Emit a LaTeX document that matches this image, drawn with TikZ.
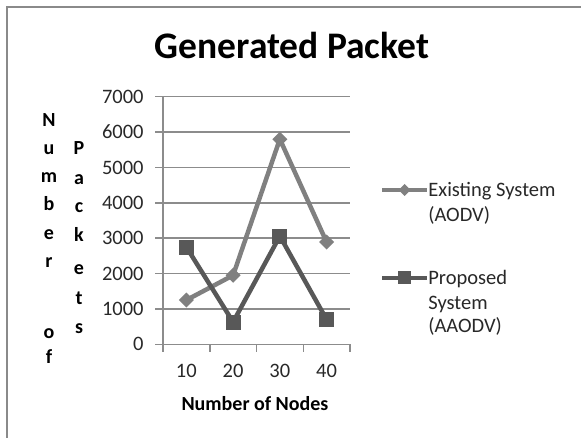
\documentclass[tikz,border=0pt]{standalone}
\usepackage{fontspec}
\setmainfont{Carlito}

\definecolor{framegray}{RGB}{138,138,138}
\definecolor{gridgray}{RGB}{140,140,140}
\definecolor{existgray}{RGB}{128,128,128}
\definecolor{propgray}{RGB}{88,88,88}
\definecolor{textgray}{RGB}{40,40,40}

\tikzset{every picture/.style={line width=0.75pt}}
\tikzset{
  lbl/.style={font=\fontsize{20.5}{24}\selectfont, text=textgray, inner sep=0pt},
  boldlbl/.style={font=\bfseries\fontsize{20}{24}\selectfont, inner sep=0pt},
  existline/.style={draw=existgray, line width=4.5, line join=round},
  propline/.style={draw=propgray, line width=4.5, line join=round},
  sqmark/.style={fill=propgray, draw=none, minimum size=15, inner sep=0pt},
}

\begin{document}
\begin{tikzpicture}[x=1pt,y=1pt,yscale=-1,xscale=1]
	\useasboundingbox (0,0) rectangle (581,438);

	%Frame
	\draw [framegray, line width=2] (7,438) -- (7,7) -- (581,7) ;

	% Title
	\node [font=\bfseries\fontsize{37.5}{40}\selectfont, inner sep=0pt, anchor=base] (title) at (292,59) {Generated Packet};

	%Gridlines and value labels
	\foreach \v [count=\i from 0] in {0,1000,...,7000} {
		\draw [gridgray, line width=1.5] (155,{344.3-35.37*\i}) -- (350,{344.3-35.37*\i}) ;
		\node [lbl, anchor=east] (yl\i) at (144,{344.3-35.37*\i}) {\v};
	}
	%Axes
	\draw [gridgray, line width=1.5] (163,96.7) -- (163,344.3) ;
	\foreach \i in {0,...,4}
		\draw [gridgray, line width=1.5] ({163+46.75*\i},344.3) -- ({163+46.75*\i},351.5) ;
	\foreach \n [count=\i] in {10,20,30,40}
		\node [lbl, anchor=base] (xl\i) at ({139.6+46.75*\i},377) {\n};

	% Axis titles
	\node [boldlbl, anchor=base] (xtitle) at (255,410) {Number of Nodes};
	\foreach \ch/\yy [count=\i] in {N/127,u/155,m/183,b/211,e/240,r/268,o/338,f/363}
		\node [boldlbl, anchor=base] (nm\i) at (49,\yy) {\ch};
	\foreach \ch/\yy [count=\i] in {P/155,a/185,c/213,k/242,e/275,t/305,s/334}
		\node [boldlbl, anchor=base] (pk\i) at (79,\yy) {\ch};

	%Data points
	\foreach \val [count=\i] in {1250,1950,5800,2890}
		\coordinate (ex\i) at ({139.6+46.75*\i},{344.3-0.03537*\val});
	\foreach \val [count=\i] in {2750,630,3060,700}
		\coordinate (pr\i) at ({139.6+46.75*\i},{344.3-0.03537*\val});

	%Existing System (AODV)
	\draw [existline] (ex1) -- (ex2) -- (ex3) -- (ex4) ;
	\foreach \i in {1,...,4}
		\fill [existgray] (ex\i) ++(0,-7.5) -- ++(7.5,7.5) -- ++(-7.5,7.5) -- ++(-7.5,-7.5) -- cycle ;

	%Proposed System (AAODV)
	\draw [propline] (pr1) -- (pr2) -- (pr3) -- (pr4) ;
	\foreach \i in {1,...,4}
		\node [sqmark] (sq\i) at (pr\i) {};

	%Legend
	\coordinate (le1) at (382,190) ;
	\coordinate (le2) at (427,190) ;
	\draw [existline, line width=4] (le1) -- (le2) ;
	\fill [existgray] (404.5,184) -- (410.5,190) -- (404.5,196) -- (398.5,190) -- cycle ;
	\node [lbl, anchor=base west] (leg1a) at (428,197) {Existing System};
	\node [lbl, anchor=base west] (leg1b) at (428,222) {(AODV)};

	\coordinate (lp1) at (382,278) ;
	\coordinate (lp2) at (427,278) ;
	\draw [propline, line width=4] (lp1) -- (lp2) ;
	\node [sqmark, minimum size=13] (lsq) at (404.5,278) {};
	\node [lbl, anchor=base west] (leg2a) at (428,285) {Proposed};
	\node [lbl, anchor=base west] (leg2b) at (428,309) {System};
	\node [lbl, anchor=base west] (leg2c) at (428,333) {(AAODV)};

\end{tikzpicture}
\end{document}
